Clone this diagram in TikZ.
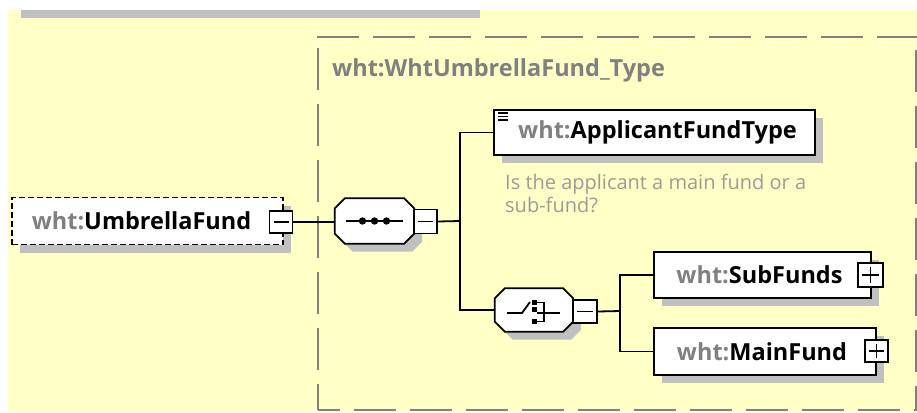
\documentclass[tikz,border=0pt]{standalone}
\usepackage{fontspec}
\setmainfont{Open Sans}
\usetikzlibrary{shadows}
\definecolor{bgyellow}{RGB}{255,255,198}
\definecolor{shgray}{RGB}{192,192,192}
\definecolor{dgray}{RGB}{128,128,128}
\definecolor{nsgray}{RGB}{128,128,128}
\definecolor{anngray}{RGB}{155,155,155}
\begin{document}
\begin{tikzpicture}[x=1pt,y=-1pt,
  shad/.style={drop shadow={shadow xshift=8pt, shadow yshift=-8pt, fill=shgray, opacity=1}},
  elem/.style={draw=black, line width=1.8pt, fill=white, inner sep=0pt, shad,
    font=\fontsize{23.5}{26}\selectfont\bfseries},
  octbase/.style={inner sep=0pt},
  octpath/.style={draw=black, line width=1.8pt, fill=white, shad},
  minusbox/.style={draw=black, line width=1.8pt, fill=white, inner sep=0pt,
    minimum width=23pt, minimum height=23pt,
    path picture={\draw[line width=1.8pt] ([xshift=4pt]path picture bounding box.west) -- ([xshift=-4pt]path picture bounding box.east);}},
  plusbox/.style={minusbox,
    path picture={\draw[line width=1.8pt] ([xshift=4pt]path picture bounding box.west) -- ([xshift=-4pt]path picture bounding box.east);
      \draw[line width=1.8pt] ([yshift=-4pt]path picture bounding box.north) -- ([yshift=4pt]path picture bounding box.south);}},
  conn/.style={draw=black, line width=1.8pt},
  bord/.style={draw=dgray, line width=2pt, dash pattern=on 42pt off 14pt},
]
\useasboundingbox (0,0) rectangle (917,412);
\fill[bgyellow] (8,10) rectangle (917,412);
\fill[shgray] (21,10) rectangle (480,18);

% type box border
\draw[bord] (317,37) -- (917,37);
\draw[bord] (318,48) -- (318,410);
\draw[bord] (916,50) -- (916,410);
\draw[bord, dash phase=20pt] (318,410) -- (917,410);
\node[anchor=west, text=nsgray, inner sep=0pt, font=\fontsize{23.5}{26}\selectfont\bfseries] (title) at (332,70) {wht:WhtUmbrellaFund\_Type};

% UmbrellaFund
\node[elem, dash pattern=on 6pt off 3pt, minimum width=271pt, minimum height=47pt] (umb) at (147.5,221) {{\color{nsgray}wht:}UmbrellaFund\hspace*{12pt}};
\node[minusbox, minimum width=23pt, minimum height=22pt] (umbm) at (281,222) {};

% sequence
\node[octbase, minimum width=79pt, minimum height=45pt] (seq) at (374.5,221) {};
\path[octpath] ([xshift=10pt]seq.north west) -- ([xshift=-10pt]seq.north east) -- ([yshift=-10pt]seq.north east)
  -- ([yshift=10pt]seq.south east) -- ([xshift=-10pt]seq.south east) -- ([xshift=10pt]seq.south west)
  -- ([yshift=10pt]seq.south west) -- ([yshift=-10pt]seq.north west) -- cycle;
\node[minusbox, minimum width=23pt, minimum height=24pt] (seqm) at (425.5,221.5) {};
\draw[line width=1.8pt] ([xshift=-29pt]seq.center) -- ([xshift=28pt]seq.center);
\foreach \dx in {-12,0,12} \fill ([xshift=\dx pt]seq.center) circle[radius=3.7pt];

% ApplicantFundType
\node[elem, minimum width=321pt, minimum height=45pt] (aft) at (654.5,132.5) {\hspace*{6pt}{\color{nsgray}wht:}ApplicantFundType};
\draw[line width=1.4pt] ([xshift=5pt,yshift=-4pt]aft.north west) -- ++(10pt,0)
  ([xshift=5pt,yshift=-7.5pt]aft.north west) -- ++(10pt,0)
  ([xshift=5pt,yshift=-11pt]aft.north west) -- ++(10pt,0);
\node[anchor=north west, align=left, inner sep=0pt, text=anngray,
  font=\fontsize{20}{23}\selectfont] (ann) at (505,174) {Is the applicant a main fund or a\\sub-fund?};

% choice
\node[octbase, minimum width=78pt, minimum height=43pt] (cho) at (534,310) {};
\path[octpath] ([xshift=10pt]cho.north west) -- ([xshift=-10pt]cho.north east) -- ([yshift=-10pt]cho.north east)
  -- ([yshift=10pt]cho.south east) -- ([xshift=-10pt]cho.south east) -- ([xshift=10pt]cho.south west)
  -- ([yshift=10pt]cho.south west) -- ([yshift=-10pt]cho.north west) -- cycle;
\node[minusbox, minimum width=24pt, minimum height=23pt] (chom) at (585,311.5) {};
\begin{scope}[shift={(cho.center)}, line width=1.8pt]
  \draw (-27,3) -- (-12,3) -- (-4,-8);
  \fill (-2,-10) rectangle (3,-5);
  \fill (-2,-3) rectangle (3,2);
  \fill (-2,9) rectangle (3,14);
  \draw[line width=1.5pt] (3,-7.5) -- (10,-7.5) -- (10,11.5) -- (3,11.5);
  \draw (3,3) -- (26,3);
\end{scope}

% SubFunds, MainFund
\node[elem, minimum width=217pt, minimum height=46pt] (sub) at (762.5,275) {{\color{nsgray}wht:}SubFunds\hspace*{6pt}};
\node[plusbox, minimum width=25pt, minimum height=24pt] (subp) at (870.5,275) {};
\node[elem, minimum width=222pt, minimum height=47pt] (main) at (765,351.5) {{\color{nsgray}wht:}MainFund\hspace*{6pt}};
\node[plusbox, minimum width=23pt, minimum height=22pt] (mainp) at (876.5,351) {};

% connectors
\coordinate (b1) at (460,221);
\coordinate (b2) at (620,311);
\draw[conn] (umbm.east) -- (umbm.east -| seq.west);
\draw[conn] (seqm.east) -- (b1);
\draw[conn] (b1) |- (aft.west);
\draw[conn] (b1) |- (cho.west);
\draw[conn] (chom.east) -- (b2);
\draw[conn] (b2) |- (sub.west);
\draw[conn] (b2) |- (main.west);
\end{tikzpicture}
\end{document}
